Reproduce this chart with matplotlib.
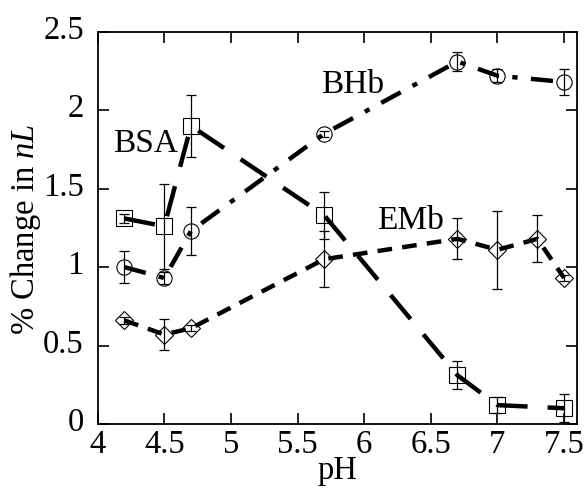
import numpy as np
import matplotlib
matplotlib.use("Agg")
import matplotlib.pyplot as plt
from matplotlib.transforms import ScaledTranslation

plt.rcParams["font.family"] = ["Liberation Serif", "DejaVu Serif"]
plt.rcParams["mathtext.fontset"] = "custom"
plt.rcParams["mathtext.it"] = "Liberation Serif:italic"
plt.rcParams["mathtext.rm"] = "Liberation Serif"

# ---- datos ----
ph_bsa = [4.2, 4.5, 4.7, 5.7, 6.7, 7.0, 7.5]
bsa = [1.31, 1.26, 1.90, 1.33, 0.31, 0.12, 0.10]
bsa_err = [0.03, 0.27, 0.20, 0.15, 0.09, 0.05, 0.09]

ph_bhb = [4.2, 4.5, 4.7, 5.7, 6.7, 7.0, 7.5]
bhb = [1.00, 0.93, 1.23, 1.85, 2.31, 2.22, 2.18]
bhb_err = [0.10, 0.04, 0.15, 0.02, 0.06, 0.04, 0.08]

ph_emb = [4.2, 4.5, 4.7, 5.7, 6.7, 7.0, 7.3, 7.5]
emb = [0.66, 0.57, 0.61, 1.05, 1.18, 1.11, 1.18, 0.93]
emb_err = [0.02, 0.10, 0.02, 0.18, 0.13, 0.25, 0.15, 0.02]

FS = 23.5

fig, ax = plt.subplots(figsize=(5.85, 4.89), dpi=100)
fig.subplots_adjust(left=0.167, right=0.987, top=0.933, bottom=0.131)

def serie(x, y, e, marker, ms, dashes):
    ax.errorbar(x, y, yerr=e, fmt="none", ecolor="black", elinewidth=0.9,
                capsize=3.5, capthick=0.9, zorder=2)
    ax.plot(x, y, linestyle="none", marker=marker, ms=ms, mfc="none",
            mec="black", mew=0.8, zorder=3)
    ax.plot(x, y, color="black", lw=3.2, dashes=dashes, zorder=4)

serie(ph_bsa, bsa, bsa_err, "s", 12, (7, 4.5))
serie(ph_bhb, bhb, bhb_err, "o", 11, (5, 3, 1.2, 3))
serie(ph_emb, emb, emb_err, "D", 9, (3.3, 2.3))

ax.text(4.36, 1.79, "BSA", fontsize=24, ha="center", va="center")
ax.text(5.91, 2.17, "BHb", fontsize=24, ha="center", va="center")
ax.text(6.35, 1.30, "EMb", fontsize=24, ha="center", va="center")

ax.set_xlim(4, 7.6)
ax.set_ylim(0, 2.5)
ax.set_xticks([4, 4.5, 5, 5.5, 6, 6.5, 7, 7.5])
ax.set_xticklabels(["4", "4.5", "5", "5.5", "6", "6.5", "7", "7.5"])
ax.set_yticks([0, 0.5, 1, 1.5, 2, 2.5])
ax.set_yticklabels(["0", "0.5", "1", "1.5", "2", "2.5"])
ax.tick_params(direction="in", length=8, width=1.2, top=True, right=True,
               labelsize=FS)
ax.tick_params(axis="x", pad=3)
ax.tick_params(axis="y", pad=10)
for lab in ax.get_yticklabels():
    lab.set_transform(lab.get_transform() + ScaledTranslation(0, 4 / 72, fig.dpi_scale_trans))
for s in ax.spines.values():
    s.set_linewidth(1.3)

ax.set_xlabel("pH", fontsize=FS)
ax.set_ylabel("% Change in $nL$", fontsize=FS)
ax.xaxis.set_label_coords(0.5, -0.078)
ax.yaxis.set_label_coords(-0.113, 0.5)

fig.savefig("out.png", dpi=100)
